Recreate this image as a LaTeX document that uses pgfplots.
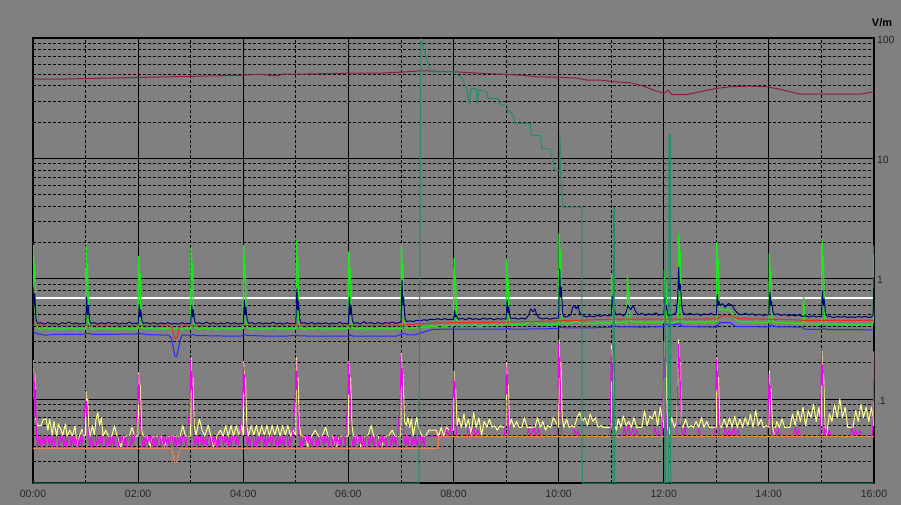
\documentclass[border=0pt]{standalone}
\usepackage{pgfplots}
\pgfplotsset{compat=1.18}
\usepackage{fontspec}
\setmainfont{Liberation Sans}
\definecolor{bggray}{RGB}{128,128,128}
\definecolor{cmaroon}{RGB}{140,30,62}
\definecolor{cseagreen}{RGB}{40,140,100}
\definecolor{cgreen}{RGB}{30,230,30}
\definecolor{cnavy}{RGB}{0,0,120}
\definecolor{cblue}{RGB}{40,40,255}
\definecolor{cred}{RGB}{240,40,30}
\definecolor{corange}{RGB}{240,130,80}
\definecolor{cmagenta}{RGB}{240,0,240}
\definecolor{cyellow}{RGB}{255,255,140}
\begin{document}
\begin{tikzpicture}
\useasboundingbox (0,0) rectangle (901pt,505pt);
\fill[bggray] (0,0) rectangle (901pt,505pt);
\begin{axis}[
  at={(33pt,22pt)}, anchor=south west,
  width=841pt, height=445pt, scale only axis,
  xmin=0, xmax=960, ymode=log, ymin=0.02, ymax=100,
  xtick={0,120,240,360,480,600,720,840,960},
  xticklabels={00:00,02:00,04:00,06:00,08:00,10:00,12:00,14:00,16:00},
  minor xtick={60,180,300,420,540,660,780,900},
  ytick={0.1,1,10,100}, yticklabels={.1,1,10,100},
  minor ytick={0.03,0.04,0.05,0.06,0.07,0.08,0.09,0.2,0.3,0.4,0.5,0.6,0.7,0.8,0.9,2,3,4,5,6,7,8,9,20,30,40,50,60,70,80,90},
  yticklabel pos=right,
  grid=both,
  major grid style={black, line width=0.8pt},
  minor grid style={black, line width=0.8pt, dash pattern=on 3pt off 2pt},
  axis line style={black, line width=1.6pt},
  major tick length=0pt, minor tick length=0pt,
  tick label style={font=\fontsize{10.5}{11}\selectfont, text=black!85},
  xticklabel style={yshift=-3.5pt},
  yticklabel style={anchor=west, yshift=-1.5pt, xshift=-0.5pt},
  every axis plot/.append style={line width=1pt, line join=round, mark=none},
]
% white threshold
\addplot[white, line width=2pt] coordinates {(0,0.695) (960,0.695)};
% yellow
\addplot[cyellow] coordinates {
(0,0.21) (1,0.12) (2,0.16) (3,0.07) (5,0.06) (9,0.06) (12,0.068) (15,0.068) (17,0.055) (19,0.068) (22,0.05) (24,0.065) (27,0.049) (29,0.062) (32,0.055) (34,0.05) (37,0.062) (39,0.049) (42,0.055) (45,0.049) (48,0.06) (50,0.042) (53,0.049) (56,0.056) (58,0.049)
(60,0.05) (60.5,0.115) (61.5,0.09) (62.5,0.1) (63.5,0.06) (65,0.049)
(68,0.06) (70,0.05) (72,0.068) (74,0.077) (76,0.06) (78,0.07) (80,0.049) (83,0.055) (86,0.049) (90,0.049) (93,0.06) (96,0.049) (100,0.04) (104,0.049) (110,0.049) (113,0.058) (116,0.049)
(120,0.049) (120.5,0.165) (121.5,0.1) (122.5,0.13) (124,0.055) (126,0.049)
(130,0.049) (134,0.04) (137,0.049) (142,0.049) (146,0.049) (150,0.04) (154,0.049) (160,0.049) (164,0.049) (168,0.049) (171,0.06) (174,0.049)
(180,0.049) (180.5,0.22) (181.5,0.12) (182.5,0.15) (184,0.06) (186,0.05)
(190,0.068) (193,0.055) (196,0.049) (200,0.06) (203,0.049) (206,0.04) (210,0.049) (214,0.055) (217,0.049) (220,0.06) (223,0.049) (226,0.06) (229,0.049) (232,0.06) (235,0.05) (238,0.06)
(240,0.05) (240.5,0.205) (241.5,0.12) (242.5,0.15) (244,0.06) (246,0.049)
(249,0.06) (252,0.05) (255,0.06) (258,0.049) (261,0.06) (264,0.05) (267,0.06) (270,0.049) (273,0.06) (276,0.05) (279,0.06) (282,0.049) (285,0.06) (288,0.05) (291,0.06) (294,0.049) (297,0.055)
(300,0.05) (300.5,0.22) (301.5,0.12) (302.5,0.15) (304,0.06) (306,0.049)
(310,0.049) (314,0.04) (318,0.049) (322,0.055) (326,0.049) (330,0.049) (334,0.058) (337,0.049) (342,0.049) (346,0.04) (350,0.049) (354,0.049)
(360,0.049) (360.5,0.205) (361.5,0.12) (362.5,0.15) (364,0.06) (366,0.049)
(370,0.049) (374,0.04) (378,0.049) (382,0.049) (386,0.06) (389,0.049) (394,0.049) (398,0.04) (402,0.049) (406,0.049) (410,0.055) (413,0.049) (416,0.049)
(420,0.049) (420.5,0.24) (421.5,0.13) (422.5,0.16) (424,0.065) (426,0.06) (428,0.07) (430,0.058) (432,0.068) (434,0.049) (436,0.06) (438,0.07) (440,0.058) (444,0.049) (448,0.049) (452,0.055) (456,0.055) (460,0.055) (463,0.049) (466,0.058) (469,0.049) (472,0.058) (475,0.055)
(480,0.055) (480.5,0.17) (481.5,0.1) (482.5,0.12) (484,0.06) (486,0.07) (489,0.058) (492,0.075) (494,0.058) (497,0.068) (500,0.05) (503,0.077) (506,0.058) (509,0.07) (512,0.05) (515,0.065) (518,0.058) (521,0.068) (524,0.058) (527,0.06) (530,0.055) (533,0.06) (536,0.058)
(540,0.06) (540.5,0.2) (541.5,0.11) (542.5,0.13) (544,0.06) (546,0.068) (549,0.058) (552,0.065) (555,0.058) (558,0.058) (561,0.07) (564,0.058) (567,0.058) (570,0.058) (573,0.058) (576,0.07) (579,0.058) (582,0.065) (585,0.055) (588,0.06) (591,0.058) (594,0.07)
(600,0.058) (600.5,0.31) (601.5,0.15) (602.5,0.2) (604,0.07) (606,0.058) (609,0.068) (612,0.058) (615,0.06) (618,0.058) (621,0.07) (624,0.077) (627,0.065) (630,0.07) (633,0.06) (636,0.075) (639,0.065) (642,0.07) (645,0.058) (648,0.06) (651,0.058) (654,0.058) (657,0.058)
(660,0.058) (660.5,0.28) (661.5,0.14) (662.5,0.17) (664,0.06) (666,0.055) (668,0.068) (671,0.058) (674,0.072) (677,0.06) (680,0.065) (683,0.058) (686,0.07) (689,0.058) (692,0.058) (695,0.058) (698,0.08) (701,0.06) (704,0.072) (707,0.068) (710,0.08) (713,0.06) (716,0.085) (718,0.07)
(720,0.058) (720.5,0.3) (721.5,0.15) (722.5,0.2) (724,0.06) (726,0.05) (729,0.07) (732,0.058) (735,0.065) (737,0.31) (738,0.15) (739,0.2) (740,0.06) (742,0.058) (745,0.068) (748,0.058) (751,0.06) (754,0.058) (757,0.065) (760,0.058) (763,0.07) (766,0.058) (769,0.065) (772,0.058) (775,0.058)
(780,0.058) (780.5,0.22) (781.5,0.12) (782.5,0.15) (784,0.06) (786,0.058) (789,0.068) (792,0.058) (795,0.07) (798,0.058) (801,0.072) (804,0.058) (807,0.068) (810,0.058) (813,0.07) (816,0.06) (819,0.075) (822,0.058) (825,0.08) (828,0.06) (831,0.068) (834,0.058) (837,0.06)
(840,0.058) (840.5,0.17) (841.5,0.1) (842.5,0.12) (844,0.06) (846,0.05) (849,0.065) (852,0.058) (855,0.068) (858,0.058) (861,0.058) (864,0.058) (867,0.075) (870,0.06) (873,0.08) (876,0.065) (879,0.085) (882,0.06) (885,0.08) (888,0.07) (891,0.09) (894,0.065) (897,0.085)
(900,0.06) (900.5,0.25) (901.5,0.13) (902.5,0.16) (904,0.06) (906,0.05) (909,0.075) (912,0.065) (915,0.09) (918,0.07) (921,0.1) (924,0.07) (927,0.085) (930,0.058) (933,0.058) (936,0.058) (939,0.08) (942,0.065) (945,0.09) (948,0.07) (951,0.085) (954,0.065) (957,0.085) (959,0.07)
(959.5,0.06) (960,0.25)
};
% magenta
\addplot[cmagenta, line width=0.8pt] coordinates {
(0,0.207) (0.7,0.1) (1.4,0.16) (2.2,0.07) (3,0.12) (4,0.049)
(5,0.04) (6.5,0.049) (8,0.04) (9.5,0.049) (11,0.042) (12.5,0.049) (14,0.04) (15.5,0.049) (17,0.049) (18.5,0.04) (20,0.049) (21.5,0.041) (23,0.049) (24.5,0.04) (26,0.049) (28,0.049) (29.5,0.04) (31,0.049) (32.5,0.043) (34,0.049) (35.5,0.04) (37,0.049) (38.5,0.04) (40,0.049) (42,0.049) (43.5,0.04) (45,0.049) (46.5,0.04) (48,0.049) (49.5,0.042) (51,0.049) (52.5,0.04) (54,0.049) (55.5,0.04) (57,0.049)
(58,0.06) (59,0.08) (59.5,0.09) (60,0.112) (60.8,0.07) (61.5,0.095) (62.5,0.06) (63.5,0.049)
(65,0.04) (66.5,0.049) (68,0.04) (69.5,0.049) (71,0.049) (72.5,0.04) (74,0.049) (75.5,0.042) (77,0.049) (78.5,0.04) (80,0.049) (82,0.049) (83.5,0.04) (85,0.049) (86.5,0.041) (88,0.049) (89.5,0.04) (91,0.049) (92.5,0.04) (94,0.049) (96,0.049) (97.5,0.04) (99,0.049) (100.5,0.043) (102,0.049) (103.5,0.04) (105,0.049) (106.5,0.04) (108,0.049) (110,0.049) (111.5,0.04) (113,0.049) (114.5,0.042) (116,0.049)
(117,0.055) (118.5,0.075) (119.5,0.1) (120,0.16) (120.8,0.09) (121.5,0.13) (122.5,0.07) (123.5,0.049)
(125,0.04) (126.5,0.049) (128,0.04) (129.5,0.049) (131,0.042) (132.5,0.049) (134,0.049) (135.5,0.04) (137,0.049) (138.5,0.04) (140,0.049) (141.5,0.041) (143,0.049) (145,0.049) (146.5,0.04) (148,0.049) (149.5,0.04) (151,0.049) (152.5,0.043) (154,0.049) (155.5,0.04) (157,0.049) (159,0.049) (160.5,0.04) (162,0.049) (163.5,0.04) (165,0.049) (166.5,0.042) (168,0.049) (169.5,0.04) (171,0.049) (173,0.049) (174.5,0.04) (176,0.049)
(177,0.06) (178.5,0.08) (179.5,0.12) (180,0.216) (180.8,0.12) (181.5,0.17) (182.5,0.08) (183.5,0.049)
(185,0.04) (186.5,0.049) (188,0.04) (189.5,0.049) (191,0.049) (192.5,0.04) (194,0.049) (195.5,0.042) (197,0.049) (198.5,0.04) (200,0.049) (202,0.049) (203.5,0.04) (205,0.049) (206.5,0.041) (208,0.049) (209.5,0.04) (211,0.049) (212.5,0.04) (214,0.049) (216,0.049) (217.5,0.04) (219,0.049) (220.5,0.043) (222,0.049) (223.5,0.04) (225,0.049) (226.5,0.04) (228,0.049) (230,0.049) (231.5,0.04) (233,0.049) (234.5,0.042) (236,0.049)
(237,0.06) (238.5,0.08) (239.5,0.11) (240,0.2) (240.8,0.11) (241.5,0.16) (242.5,0.08) (243.5,0.049)
(245,0.04) (246.5,0.049) (248,0.041) (249.5,0.049) (251,0.049) (252.5,0.04) (254,0.049) (255.5,0.04) (257,0.049) (258.5,0.042) (260,0.049) (262,0.049) (263.5,0.04) (265,0.049) (266.5,0.04) (268,0.049) (269.5,0.043) (271,0.049) (272.5,0.04) (274,0.049) (276,0.049) (277.5,0.04) (279,0.049) (280.5,0.041) (282,0.049) (283.5,0.04) (285,0.049) (286.5,0.04) (288,0.049) (290,0.049) (291.5,0.04) (293,0.049) (294.5,0.042) (296,0.049)
(297,0.06) (298.5,0.08) (299.5,0.12) (300,0.216) (300.8,0.12) (301.5,0.17) (302.5,0.08) (303.5,0.049)
(305,0.04) (306.5,0.049) (308,0.04) (309.5,0.049) (311,0.042) (312.5,0.049) (314,0.049) (315.5,0.04) (317,0.049) (318.5,0.04) (320,0.049) (322,0.049) (323.5,0.041) (325,0.049) (326.5,0.04) (328,0.049) (330,0.049) (331.5,0.04) (333,0.049) (334.5,0.043) (336,0.049) (337.5,0.04) (339,0.049) (341,0.049) (342.5,0.04) (344,0.049) (345.5,0.04) (347,0.049) (348.5,0.042) (350,0.049) (351.5,0.04) (353,0.049) (355,0.049) (356.5,0.04)
(357,0.049) (358.5,0.08) (359.5,0.11) (360,0.2) (360.8,0.11) (361.5,0.16) (362.5,0.08) (363.5,0.049)
(365,0.04) (366.5,0.049) (368,0.04) (369.5,0.049) (371,0.049) (372.5,0.041) (374,0.049) (375.5,0.04) (377,0.049) (378.5,0.04) (380,0.049) (382,0.049) (383.5,0.04) (385,0.049) (386.5,0.042) (388,0.049) (389.5,0.04) (391,0.049) (393,0.049) (394.5,0.04) (396,0.049) (397.5,0.04) (399,0.049) (400.5,0.043) (402,0.049) (403.5,0.04) (405,0.049) (407,0.049) (408.5,0.04) (410,0.049) (411.5,0.041) (413,0.049) (414.5,0.04) (416,0.049)
(417,0.06) (418.5,0.08) (419.5,0.13) (420,0.236) (420.8,0.13) (421.5,0.18) (422.5,0.08) (423.5,0.049)
(425,0.04) (426.5,0.049) (428,0.04) (429.5,0.049) (431,0.049) (432.5,0.04) (434,0.049) (435.5,0.042) (437,0.049) (438.5,0.04) (440,0.049) (442,0.049) (443.5,0.04) (445,0.049) (446.5,0.04) (448,0.049)
(460,0.049) (470,0.049) (472,0.056) (474,0.049) (476,0.058) (478,0.049)
(479,0.06) (479.5,0.1) (480,0.168) (480.8,0.1) (481.5,0.14) (482.5,0.07) (483.5,0.049)
(495,0.049) (497,0.057) (499,0.049) (503,0.058) (505,0.049) (508,0.055) (510,0.049)
(538,0.049) (539,0.06) (539.5,0.11) (540,0.193) (540.8,0.11) (541.5,0.16) (542.5,0.07) (543.5,0.049)
(564,0.049) (566,0.057) (568,0.049) (572,0.058) (574,0.049) (577,0.056) (579,0.049)
(598,0.049) (599,0.065) (599.5,0.15) (600,0.286) (600.8,0.15) (601.5,0.22) (602.5,0.08) (603.5,0.049)
(616,0.049) (618,0.057) (620,0.049) (622,0.055) (624,0.049)
(658,0.049) (659,0.06) (659.5,0.14) (660,0.258) (660.8,0.14) (661.5,0.2) (662.5,0.08) (663.5,0.049)
(673,0.049) (675,0.058) (677,0.049) (680,0.06) (682,0.049) (685,0.057) (687,0.049) (689,0.055) (691,0.049)
(708,0.049) (710,0.058) (712,0.049) (714,0.055) (716,0.049)
(718,0.049) (719,0.07) (719.5,0.15) (720,0.286) (720.8,0.15) (721.5,0.22) (722.5,0.08) (723.5,0.049)
(735,0.049) (736,0.15) (737,0.286) (737.8,0.15) (738.5,0.22) (739.5,0.08) (740.5,0.055) (742,0.049) (744,0.058) (746,0.049)
(758,0.049) (760,0.057) (762,0.049)
(778,0.049) (779,0.065) (779.5,0.12) (780,0.216) (780.8,0.12) (781.5,0.17) (782.5,0.07) (783.5,0.049)
(788,0.049) (790,0.058) (792,0.049) (795,0.056) (797,0.049) (800,0.058) (802,0.049) (805,0.055) (807,0.049)
(838,0.049) (839,0.06) (839.5,0.1) (840,0.16) (840.8,0.1) (841.5,0.13) (842.5,0.065) (843.5,0.049)
(845,0.049) (847,0.057) (849,0.049) (851,0.056) (853,0.049)
(868,0.049) (870,0.058) (872,0.049) (874,0.056) (876,0.049)
(898,0.049) (899,0.065) (899.5,0.13) (900,0.24) (900.8,0.13) (901.5,0.19) (902.5,0.075) (903.5,0.049) (905,0.057) (907,0.049) (909,0.055) (911,0.049)
(933,0.049) (935,0.058) (937,0.049) (939,0.056) (941,0.049) (944,0.055) (946,0.049)
(958,0.049) (959,0.07) (959.5,0.13) (960,0.236)
};
% orange
\addplot[corange] coordinates {
(0,0.0388) (158,0.0388) (160,0.034) (162,0.0295) (164,0.0295) (166,0.034) (168,0.0388) (462.5,0.0388) (463,0.0485) (960,0.0485)
};
% blue
\addplot[cblue] coordinates {
(0,0.37) (1.5,0.36) (4,0.35) (8,0.345) (14,0.338) (20,0.342) (30,0.345) (40,0.343) (50,0.345) (58,0.344) (60,0.35) (63,0.352) (66,0.345) (80,0.343) (100,0.345) (118,0.345) (120,0.352) (124,0.348) (130,0.342) (145,0.34) (155,0.338) (158,0.32) (160,0.27) (162,0.228) (164,0.224) (166,0.26) (168,0.31) (170,0.338) (180,0.34) (183,0.343) (186,0.335) (200,0.335) (220,0.333) (238,0.332) (241,0.345) (244,0.338) (255,0.335) (270,0.332) (290,0.333) (300,0.338) (303,0.335) (320,0.332) (340,0.332) (360,0.333) (362,0.342) (365,0.332) (390,0.332) (415,0.333) (420,0.345) (424,0.35) (428,0.34) (436,0.34) (446,0.36) (456,0.378) (470,0.38) (500,0.38) (540,0.38) (542,0.388) (546,0.38) (580,0.382) (600,0.385) (603,0.395) (608,0.39) (640,0.39) (660,0.395) (663,0.41) (667,0.398) (700,0.395) (720,0.4) (722,0.42) (726,0.41) (738,0.42) (742,0.4) (780,0.395) (784,0.43) (796,0.43) (802,0.4) (840,0.397) (843,0.41) (848,0.398) (878,0.395) (880,0.38) (900,0.378) (903,0.385) (906,0.378) (960,0.375)
};
% bright green
\addplot[cgreen, line width=1.4pt] coordinates {
(0,0.6) (0.4,1.88) (1.4,1.0) (2,1.3) (3.2,0.45) (5,0.39)
(9,0.378) (14,0.392) (19,0.38) (24,0.39) (29,0.376) (34,0.388) (39,0.38) (44,0.392) (49,0.378) (54,0.388) (58,0.382)
(60,0.385) (60.6,1.85) (61.6,1.0) (62.2,1.33) (63.5,0.44) (65,0.39)
(70,0.378) (75,0.39) (80,0.38) (85,0.392) (90,0.376) (95,0.388) (100,0.38) (105,0.39) (110,0.378) (115,0.388) (118,0.382)
(120,0.385) (120.6,1.52) (121.6,0.84) (122.2,1.1) (123.5,0.44) (125,0.39)
(130,0.38) (135,0.39) (140,0.376) (145,0.388) (150,0.38) (155,0.39) (160,0.378) (165,0.388) (170,0.38) (175,0.39) (178,0.382)
(180,0.385) (180.6,1.83) (181.6,1.0) (182.2,1.32) (183.5,0.44) (185,0.39)
(190,0.378) (195,0.39) (200,0.38) (205,0.392) (210,0.376) (215,0.388) (220,0.38) (225,0.39) (230,0.378) (235,0.388) (238,0.382)
(240,0.385) (240.6,1.88) (241.6,1.03) (242.2,1.35) (243.5,0.44) (245,0.39)
(250,0.38) (255,0.39) (260,0.376) (265,0.388) (270,0.38) (275,0.392) (280,0.378) (285,0.388) (290,0.38) (295,0.39) (298,0.382)
(300,0.385) (300.6,2.07) (301.6,1.14) (302.2,1.49) (303.5,0.44) (305,0.39)
(310,0.378) (315,0.39) (320,0.38) (325,0.392) (330,0.376) (335,0.388) (340,0.38) (345,0.39) (350,0.378) (355,0.388) (358,0.382)
(360,0.385) (360.6,1.67) (361.6,0.92) (362.2,1.2) (363.5,0.44) (365,0.39)
(370,0.38) (375,0.39) (380,0.376) (385,0.388) (390,0.38) (395,0.392) (400,0.378) (405,0.388) (410,0.38) (415,0.39) (418,0.382)
(420,0.385) (420.6,1.88) (421.6,1.03) (422.2,1.35) (423.5,0.45) (425,0.39)
(430,0.385) (435,0.392) (440,0.39) (445,0.398) (450,0.395) (455,0.405) (460,0.4) (465,0.41) (470,0.402) (475,0.41) (478,0.405)
(480,0.405) (480.6,1.47) (481.6,0.81) (482.2,1.06) (483.5,0.46) (485,0.41)
(490,0.402) (495,0.412) (500,0.405) (505,0.415) (510,0.4) (515,0.412) (520,0.405) (525,0.415) (530,0.405) (535,0.412) (538,0.408)
(540,0.41) (540.6,1.41) (541.6,0.78) (542.2,1.0) (543.5,0.47) (545,0.415)
(550,0.41) (555,0.42) (560,0.412) (565,0.43) (570,0.445) (575,0.425) (580,0.415) (585,0.422) (590,0.412) (595,0.42) (598,0.415)
(600,0.415) (600.6,2.36) (601.6,1.3) (602.2,1.7) (603.5,0.5) (605,0.425)
(610,0.42) (615,0.43) (620,0.445) (625,0.425) (630,0.42) (635,0.428) (640,0.42) (645,0.432) (650,0.425) (655,0.43) (658,0.425)
(660,0.425) (660.6,1.09) (661.6,0.7) (662.2,0.85) (663.5,0.48) (665,0.43)
(670,0.43) (675,0.438) (678,0.43) (678.6,1.06) (679.6,0.7) (680.2,0.8) (681.5,0.46) (683,0.44) (688,0.432) (693,0.44) (698,0.428) (703,0.438) (708,0.43) (713,0.44) (718,0.43)
(720,0.43) (720.6,1.17) (721.6,0.7) (722.2,0.9) (723.5,0.47) (725,0.435)
(730,0.43) (735,0.44) (736.5,0.44) (737.1,2.36) (738.1,1.3) (738.7,1.7) (740,0.5) (741.5,0.44) (746,0.432) (751,0.44) (756,0.428) (761,0.438) (766,0.43) (771,0.44) (776,0.432) (779,0.435)
(780,0.435) (780.6,2.0) (781.6,1.1) (782.2,1.44) (783.5,0.55) (786,0.56) (790,0.54) (794,0.56) (798,0.52) (802,0.46) (806,0.44) (811,0.432) (816,0.44) (821,0.428) (826,0.438) (831,0.43) (836,0.435) (839,0.43)
(840,0.43) (840.6,1.61) (841.6,0.89) (842.2,1.16) (843.5,0.47) (845,0.435)
(850,0.428) (855,0.435) (860,0.425) (865,0.432) (870,0.422) (875,0.428) (879,0.42) (879.6,0.7) (880.6,0.5) (881.5,0.43) (885,0.418) (890,0.425) (895,0.415) (898,0.42)
(900,0.42) (900.6,2.07) (901.6,1.14) (902.2,1.49) (903.5,0.46) (905,0.42)
(910,0.415) (915,0.422) (920,0.412) (925,0.42) (930,0.41) (935,0.418) (940,0.41) (945,0.418) (950,0.41) (955,0.415) (958,0.412)
(959.4,0.45) (960,1.88)
};
% navy
\addplot[cnavy] coordinates {
(0,0.85) (1,0.6) (2,0.75) (3.5,0.45) (5,0.425)
(9,0.43) (13,0.418) (17,0.432) (21,0.42) (25,0.428) (29,0.415) (33,0.43) (37,0.422) (41,0.435) (45,0.42) (49,0.428) (53,0.418) (57,0.425)
(60,0.42) (60.6,0.55) (61.2,0.70) (62.2,0.5) (63,0.6) (64.5,0.45) (66,0.425)
(70,0.43) (74,0.418) (78,0.43) (82,0.42) (86,0.432) (90,0.422) (94,0.43) (98,0.418) (102,0.428) (106,0.42) (110,0.435) (114,0.42) (117,0.428)
(120,0.42) (120.6,0.5) (121.2,0.61) (122.2,0.48) (123,0.55) (124.5,0.44) (126,0.425)
(130,0.43) (134,0.42) (138,0.43) (142,0.418) (146,0.428) (150,0.42) (154,0.43) (158,0.418) (162,0.425) (166,0.418) (170,0.43) (174,0.42) (177,0.425)
(180,0.42) (180.6,0.5) (181.2,0.60) (182.2,0.48) (183,0.55) (184.5,0.44) (186,0.425)
(190,0.43) (194,0.42) (198,0.435) (202,0.42) (206,0.43) (210,0.418) (214,0.428) (218,0.42) (222,0.432) (226,0.42) (230,0.43) (234,0.418) (237,0.425)
(240,0.42) (240.6,0.52) (241.2,0.66) (242.2,0.5) (243,0.58) (244.5,0.45) (246,0.425)
(250,0.43) (254,0.418) (258,0.432) (262,0.42) (266,0.428) (270,0.42) (274,0.435) (278,0.42) (282,0.428) (286,0.418) (290,0.43) (294,0.42) (297,0.425)
(300,0.42) (300.6,0.6) (301.2,0.82) (302.2,0.55) (303,0.65) (304.5,0.46) (306,0.425)
(310,0.43) (314,0.42) (318,0.432) (322,0.418) (326,0.428) (330,0.42) (334,0.43) (338,0.418) (342,0.428) (346,0.42) (350,0.435) (354,0.42) (357,0.425)
(360,0.42) (360.6,0.55) (361.2,0.70) (362.2,0.5) (363,0.6) (364.5,0.45) (366,0.425)
(370,0.43) (374,0.42) (378,0.44) (380,0.425) (386,0.43) (390,0.42) (394,0.432) (398,0.42) (402,0.43) (406,0.425) (410,0.435) (414,0.425) (417,0.43)
(420,0.43) (420.6,0.65) (421.2,0.96) (422.2,0.6) (423,0.7) (424.5,0.47) (426,0.44)
(430,0.445) (434,0.44) (438,0.45) (442,0.445) (446,0.455) (450,0.45) (454,0.46) (458,0.455) (462,0.465) (466,0.455) (470,0.465) (474,0.455) (477,0.46)
(480,0.455) (480.6,0.5) (481.2,0.54) (482.2,0.48) (483,0.5) (484.5,0.47) (486,0.46)
(490,0.468) (494,0.455) (498,0.47) (502,0.458) (506,0.465) (510,0.455) (514,0.47) (518,0.46) (522,0.468) (526,0.455) (530,0.465) (534,0.46) (537,0.465)
(540,0.46) (540.6,0.55) (541.2,0.66) (542.2,0.52) (543,0.58) (544.5,0.48) (546,0.465)
(550,0.47) (554,0.46) (558,0.47) (562,0.46) (566,0.5) (568,0.56) (571,0.53) (573,0.56) (575,0.5) (578,0.47) (582,0.462) (586,0.47) (590,0.46) (594,0.468) (597,0.47)
(600,0.47) (600.6,0.8) (601.2,1.2) (602.2,0.7) (603,0.85) (604.5,0.52) (606,0.48)
(610,0.485) (614,0.5) (616,0.58) (618,0.6) (620,0.56) (622,0.6) (624,0.52) (628,0.49) (632,0.48) (636,0.49) (640,0.48) (644,0.495) (648,0.485) (652,0.5) (656,0.49)
(660,0.49) (660.6,0.6) (661.2,0.72) (662.2,0.58) (663,0.62) (664.5,0.52) (666,0.5)
(670,0.51) (674,0.49) (677,0.52) (679,0.6) (682,0.55) (685,0.6) (688,0.53) (691,0.5) (695,0.515) (699,0.495) (703,0.51) (707,0.5) (711,0.52) (714,0.495) (717,0.505)
(720,0.5) (720.6,0.6) (721.2,0.7) (722.2,0.55) (723,0.6) (724.5,0.5) (726,0.49) (730,0.5) (734,0.52) (736,0.7) (737,1.24) (738,0.8) (739,0.9) (740.5,0.6) (742,0.52) (746,0.5) (750,0.515) (754,0.5) (758,0.51) (762,0.495) (766,0.51) (770,0.5) (774,0.515) (777,0.5)
(780,0.5) (780.6,0.62) (781.2,0.74) (782.2,0.6) (783,0.65) (784,0.6) (787,0.62) (790,0.58) (794,0.62) (798,0.6) (801,0.55) (805,0.51) (809,0.5) (813,0.515) (817,0.5) (821,0.51) (825,0.495) (829,0.505) (833,0.495) (837,0.5)
(840,0.5) (840.6,0.65) (841.2,0.77) (842.2,0.6) (843,0.65) (844.5,0.53) (846,0.5) (850,0.51) (854,0.495) (858,0.505) (862,0.49) (866,0.5) (870,0.49) (874,0.5) (878,0.485) (882,0.49) (886,0.48) (890,0.49) (894,0.48) (897,0.485)
(900,0.48) (900.6,0.65) (901.2,0.79) (902.2,0.6) (903,0.68) (904.5,0.52) (906,0.49) (910,0.485) (914,0.475) (918,0.485) (922,0.478) (926,0.485) (930,0.475) (934,0.482) (938,0.475) (942,0.485) (946,0.478) (950,0.485) (954,0.475) (957,0.48)
(959,0.5) (960,1.03)
};
% red
\addplot[cred] coordinates {
(0,0.41) (40,0.408) (80,0.41) (120,0.408) (155,0.41) (159,0.39) (161,0.33) (163,0.316) (165,0.33) (167,0.39) (170,0.41) (240,0.408) (300,0.41) (360,0.408) (420,0.41) (440,0.42) (460,0.428) (480,0.43) (540,0.435) (600,0.445) (640,0.455) (660,0.46) (720,0.46) (780,0.462) (786,0.49) (798,0.49) (804,0.465) (840,0.46) (870,0.455) (880,0.45) (960,0.45)
};
% maroon
\addplot[cmaroon] coordinates {
(0,45.5) (30,45.5) (60,46) (90,46.5) (120,47) (150,47.5) (180,48) (210,48.5) (240,49) (258,50) (270,49) (280,48.5) (285,50) (300,50) (330,50.5) (360,51) (396,51) (420,52) (444,53.4) (480,52.4) (510,51) (540,49.8) (560,49) (575,47.6) (600,47.1) (620,46.5) (632,44.7) (648,44.7) (660,43.5) (682,42.4) (696,40) (708,37) (720,34.6) (725,36.8) (729,33.9) (746,33.9) (761,35.7) (780,38.1) (798,39.5) (818,39.8) (838,39.3) (853,37.4) (876,34.1) (944,34.1) (960,35.7)
};
% sea green
\addplot[cseagreen] coordinates {
(0,0.02) (440.4,0.02) (442.8,100) (453,54.1) (456,52.4) (480,52.4) (490,46.1) (495,38.1) (498,27.7) (500,38.1) (506,38.1) (507,27.7) (509,36.8) (510,36.8) (518,35.7) (520,31.4) (531,31.4) (533,27.7) (541,27.7) (542,25.1) (548,22.9) (550,19.5) (568,19.5) (568.5,15.5) (579,15.5) (581,12.0) (590,12.0) (596,7.94) (601,7.94) (601.5,16.0) (602,7.94) (605,3.93) (626.5,3.93) (627,0.02) (661.8,0.02) (662.5,3.9) (663.5,3.9) (664,0.02) (721,0.02) (721.5,1.9) (722.5,0.02) (725.5,0.02) (726,15.8) (727.5,15.8) (728,0.02) (960,0.02)
};
\end{axis}
\node[font=\bfseries\fontsize{11}{11}\selectfont, text=black] at (882pt,482.3pt) {V/m};
\end{tikzpicture}
\end{document}
